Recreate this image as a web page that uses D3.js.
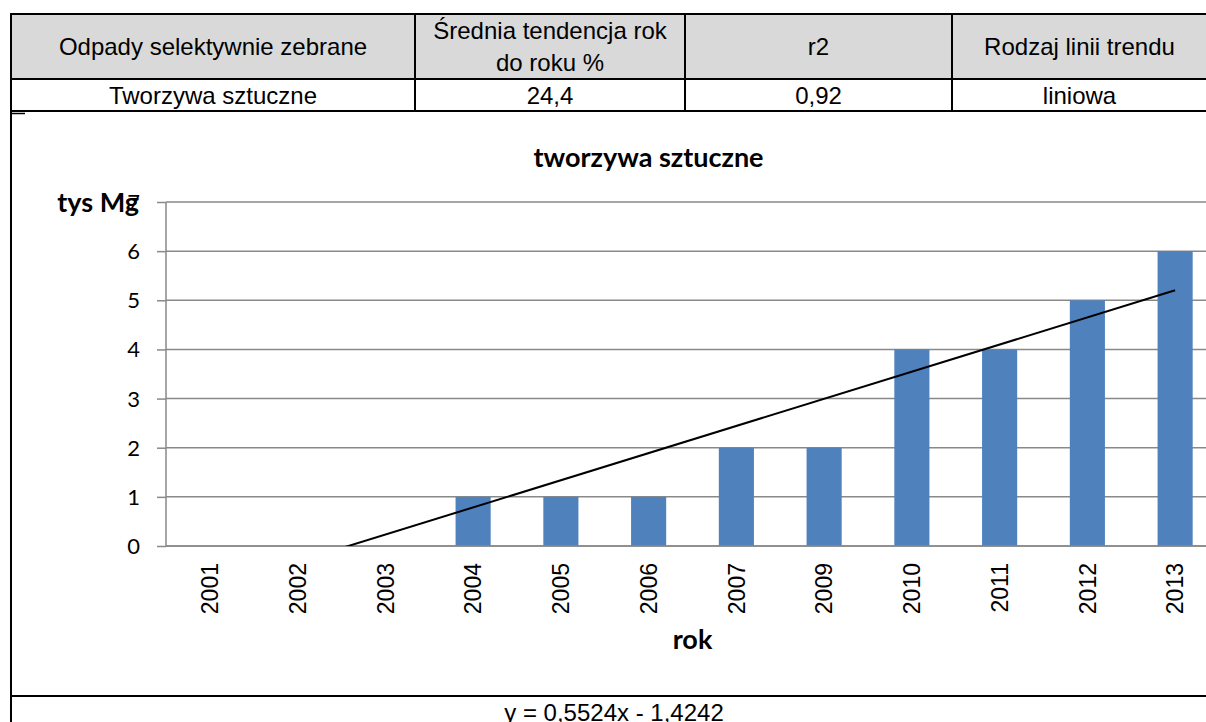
<!DOCTYPE html>
<meta charset="utf-8">
<style>
	body { margin: 0; background: #fff; }
	svg { display: block; }
	.tbl text { font: 24px "Liberation Sans", Arial, sans-serif; fill: #000; text-anchor: middle; }
	.xlab text { font: 23px "Liberation Sans", Arial, sans-serif; fill: #000; }
	.ylab text { font: 22px Lato, sans-serif; fill: #000; }
	.ttl { font: bold 27px Lato, sans-serif; fill: #000; }
</style>
<script src="https://d3js.org/d3.v7.min.js"></script>
<svg id="chart"></svg>
<script>

	// table
	var headers = [["Odpady selektywnie zebrane"], ["Średnia tendencja rok", "do roku %"], ["r2"], ["Rodzaj linii trendu"]];
	var rowCells = ["Tworzywa sztuczne", "24,4", "0,92", "liniowa"];

	// chart
	var years = ["2001", "2002", "2003", "2004", "2005", "2006", "2007", "2009", "2010", "2011", "2012", "2013"];
	var values = [0, 0, 0, 1, 1, 1, 2, 2, 4, 4, 5, 6];
	var yTicks = [0, 1, 2, 3, 4, 5, 6, 7];
	var trendSlope = 0.5524,
		trendIntercept = -1.4242;
	var equation = "y = 0,5524x - 1,4242";

	var width = 1206, height = 722;
	var svg = d3.select("#chart").attr("width", width).attr("height", height);

	var tLeft = 11, tRight = 1207, tTop = 14, hBottom = 79, rBottom = 111, cBottom = 696;
	var colEdges = [tLeft, 415, 685, 952, tRight];

	var tbl = svg.append("g").attr("class", "tbl");

	tbl.append("rect")
		.attr("x", tLeft).attr("y", tTop)
		.attr("width", tRight - tLeft).attr("height", hBottom - tTop)
		.attr("fill", "#d9d9d9");

	headers.forEach(function(lines, i) {
		var cx = (colEdges[i] + colEdges[i + 1]) / 2;
		var cy = (tTop + hBottom) / 2;
		lines.forEach(function(s, j) {
			tbl.append("text")
				.attr("x", cx)
				.attr("y", cy + (j - (lines.length - 1) / 2) * 32)
				.attr("dy", ".36em")
				.text(s);
		});
	});

	rowCells.forEach(function(s, i) {
		tbl.append("text")
			.attr("x", (colEdges[i] + colEdges[i + 1]) / 2)
			.attr("y", (hBottom + rBottom) / 2)
			.attr("dy", ".36em")
			.text(s);
	});

	tbl.append("text")
		.attr("x", (tLeft + tRight) / 2 + 5)
		.attr("y", (cBottom + 722) / 2 + 3)
		.attr("dy", ".36em")
		.text(equation);

	var lines = tbl.append("g").attr("stroke", "#000").attr("stroke-width", 2);
	[tTop, hBottom, rBottom, cBottom].forEach(function(y) {
		lines.append("line").attr("x1", tLeft - 1).attr("x2", tRight).attr("y1", y).attr("y2", y);
	});
	lines.append("line").attr("x1", tLeft).attr("x2", tLeft).attr("y1", tTop).attr("y2", height);
	colEdges.slice(1, 4).forEach(function(x) {
		lines.append("line").attr("x1", x).attr("x2", x).attr("y1", tTop).attr("y2", rBottom);
	});
	lines.append("line").attr("x1", tLeft).attr("x2", 25).attr("y1", 113.5).attr("y2", 113.5).attr("stroke-width", 1.5);

	// plot
	var pLeft = 166, pRight = 1219, pTop = 202, pBottom = 546;

	var x = d3.scaleBand().domain(years).range([pLeft, pRight]).paddingInner(0.6).paddingOuter(0.3);
	var xi = d3.scaleLinear().domain([0.5, years.length + 0.5]).range([pLeft, pRight]);
	var y = d3.scaleLinear().domain([0, 7]).range([pBottom, pTop]);

	svg.append("defs").append("clipPath").attr("id", "plotclip")
		.append("rect").attr("x", pLeft).attr("y", pTop - 2).attr("width", pRight - pLeft).attr("height", pBottom - pTop + 2);

	var yAxis = svg.append("g")
		.attr("class", "ylab")
		.attr("transform", "translate(" + pLeft + ",0)")
		.call(d3.axisLeft(y).tickValues(yTicks).tickFormat(d3.format("d")).tickSize(9).tickPadding(17))
		.call(function(g) { g.select(".domain").remove(); });
	yAxis.selectAll(".tick line").attr("stroke", "#898989").attr("stroke-width", 1.5);
	yAxis.selectAll(".tick text").attr("font-size", null).attr("font-family", null).attr("dy", "0.34em");

	svg.append("g")
		.selectAll("line")
		.data(yTicks)
		.join("line")
		.attr("x1", pLeft).attr("x2", pRight)
		.attr("y1", function(d) { return y(d); })
		.attr("y2", function(d) { return y(d); })
		.attr("stroke", "#898989").attr("stroke-width", 1.5);

	svg.append("line")
		.attr("x1", pLeft).attr("x2", pLeft).attr("y1", pTop).attr("y2", pBottom)
		.attr("stroke", "#898989").attr("stroke-width", 1.5);

	svg.append("g")
		.selectAll("rect")
		.data(values)
		.join("rect")
		.attr("x", function(d, i) { return x(years[i]); })
		.attr("y", function(d) { return y(d); })
		.attr("width", x.bandwidth())
		.attr("height", function(d) { return pBottom - y(d); })
		.attr("fill", "#4f81bd");

	// x axis line over bars
	svg.append("line")
		.attr("x1", pLeft).attr("x2", pRight).attr("y1", pBottom).attr("y2", pBottom)
		.attr("stroke", "#898989").attr("stroke-width", 1.5);

	var trend = d3.line()
		.x(function(d) { return xi(d); })
		.y(function(d) { return y(trendSlope * d + trendIntercept); });

	svg.append("path")
		.datum([1, years.length])
		.attr("clip-path", "url(#plotclip)")
		.attr("d", trend)
		.attr("fill", "none")
		.attr("stroke", "#000")
		.attr("stroke-width", 2);

	var xl = svg.append("g").attr("class", "xlab");
	xl.selectAll("text")
		.data(years)
		.join("text")
		.attr("transform", function(d) {
			return "translate(" + (x(d) + x.bandwidth() / 2) + "," + 563 + ") rotate(-90)";
		})
		.attr("text-anchor", "end")
		.attr("dy", ".36em")
		.text(function(d) { return d; });

	svg.append("text").attr("class", "ttl")
		.attr("x", (pLeft + pRight) / 2 - 44).attr("y", 167)
		.attr("text-anchor", "middle")
		.text("tworzywa sztuczne");

	svg.append("text").attr("class", "ttl")
		.attr("x", (pLeft + pRight) / 2).attr("y", 649)
		.attr("text-anchor", "middle")
		.text("rok");

	svg.append("text").attr("class", "ttl")
		.attr("x", 139).attr("y", 212)
		.attr("text-anchor", "end")
		.text("tys Mg");

</script>
